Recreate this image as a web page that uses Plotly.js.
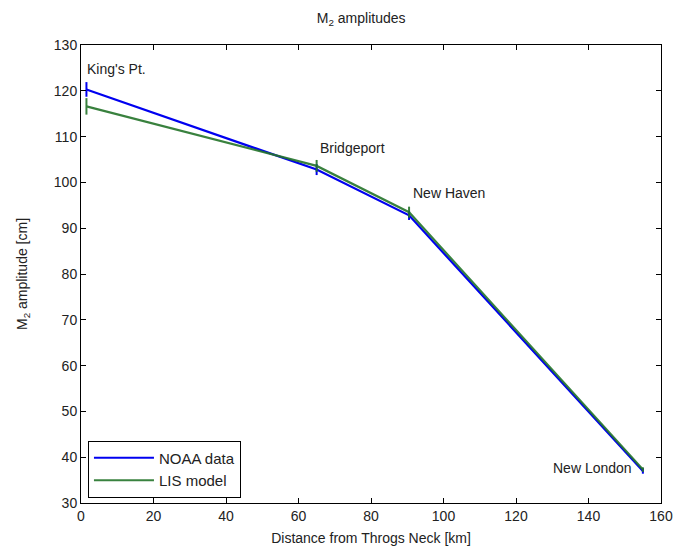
<!DOCTYPE html>
<html>
<head>
<meta charset="utf-8">
<script src="https://cdn.plot.ly/plotly-3.0.1.min.js"></script>
<style>html,body{margin:0;padding:0;background:#fff}#chart{width:675px;height:554px}</style>
</head>
<body>
<div id="chart"></div>
<script>
const stations = ["King's Pt.", "Bridgeport", "New Haven", "New London"];
const distanceKm = [1.5, 65, 90.5, 155];
const noaaAmp = [120.3, 102.8, 92.8, 37];
const noaaErr = [1.6, 1.2, 1.0, 0.6];
const modelAmp = [116.6, 103.6, 93.5, 37.3];
const modelErr = [1.8, 1.3, 1.2, 0.5];
const labelY = [124.8, 107.6, 97.6, 37.7];

const ff = 'Arial, "Liberation Sans", sans-serif';
const font = {family: ff, size: 13, color: '#222'};

const traces = [
  {x: distanceKm, y: noaaAmp, name: 'NOAA data', mode: 'lines', type: 'scatter',
   line: {color: '#0000f0', width: 2.2},
   error_y: {type: 'data', array: noaaErr, visible: true, color: '#0000f0', thickness: 2, width: 0}},
  {x: distanceKm, y: modelAmp, name: 'LIS model', mode: 'lines', type: 'scatter',
   line: {color: '#24742a', width: 2.2, shape: 'linear'}, opacity: 0.9,
   error_y: {type: 'data', array: modelErr, visible: true, color: '#24742a', thickness: 2, width: 0}}
];

const xanchor = ['left', 'left', 'left', 'right'];
const xoff = [-0.5, 0.5, 0.5, -2.5];
const annotations = stations.map((s, i) => ({
  x: distanceKm[i] + xoff[i],
  y: labelY[i], xref: 'x', yref: 'y', text: s, showarrow: false,
  xanchor: xanchor[i], yanchor: 'middle', font: {family: ff, size: 14, color: '#222'}
}));

const layout = {
  width: 675, height: 554,
  margin: {l: 81, r: 14, t: 45, b: 51},
  paper_bgcolor: '#fff', plot_bgcolor: '#fff',
  font: font,
  title: {text: 'M<sub>2</sub> amplitudes', x: 0.535, xanchor: 'center', y: 0.968, yanchor: 'middle', font: {family: ff, size: 14, color: '#222'}},
  showlegend: true,
  legend: {x: 0.012, y: 0.012, xanchor: 'left', yanchor: 'bottom', bordercolor: '#000', borderwidth: 1, bgcolor: '#fff',
           font: {family: ff, size: 15, color: '#222'}, itemwidth: 60},
  xaxis: {range: [0, 160], dtick: 20, tick0: 0, ticks: 'inside', ticklen: 5, tickcolor: '#000',
          showline: true, linecolor: '#000', linewidth: 1, mirror: 'ticks', showgrid: false, zeroline: false,
          tickfont: {family: ff, size: 14, color: '#222'},
          title: {text: 'Distance from Throgs Neck [km]', standoff: 10, font: {family: ff, size: 14, color: '#222'}}},
  yaxis: {range: [30, 130], dtick: 10, tick0: 30, ticks: 'inside', ticklen: 5, tickcolor: '#000',
          showline: true, linecolor: '#000', linewidth: 1, mirror: 'ticks', showgrid: false, zeroline: false,
          tickfont: {family: ff, size: 14, color: '#222'},
          title: {text: 'M<sub>2</sub> amplitude [cm]', standoff: 22, font: {family: ff, size: 14, color: '#222'}}},
  annotations: annotations
};

Plotly.newPlot('chart', traces, layout, {displayModeBar: false, staticPlot: true});
</script>
</body>
</html>
